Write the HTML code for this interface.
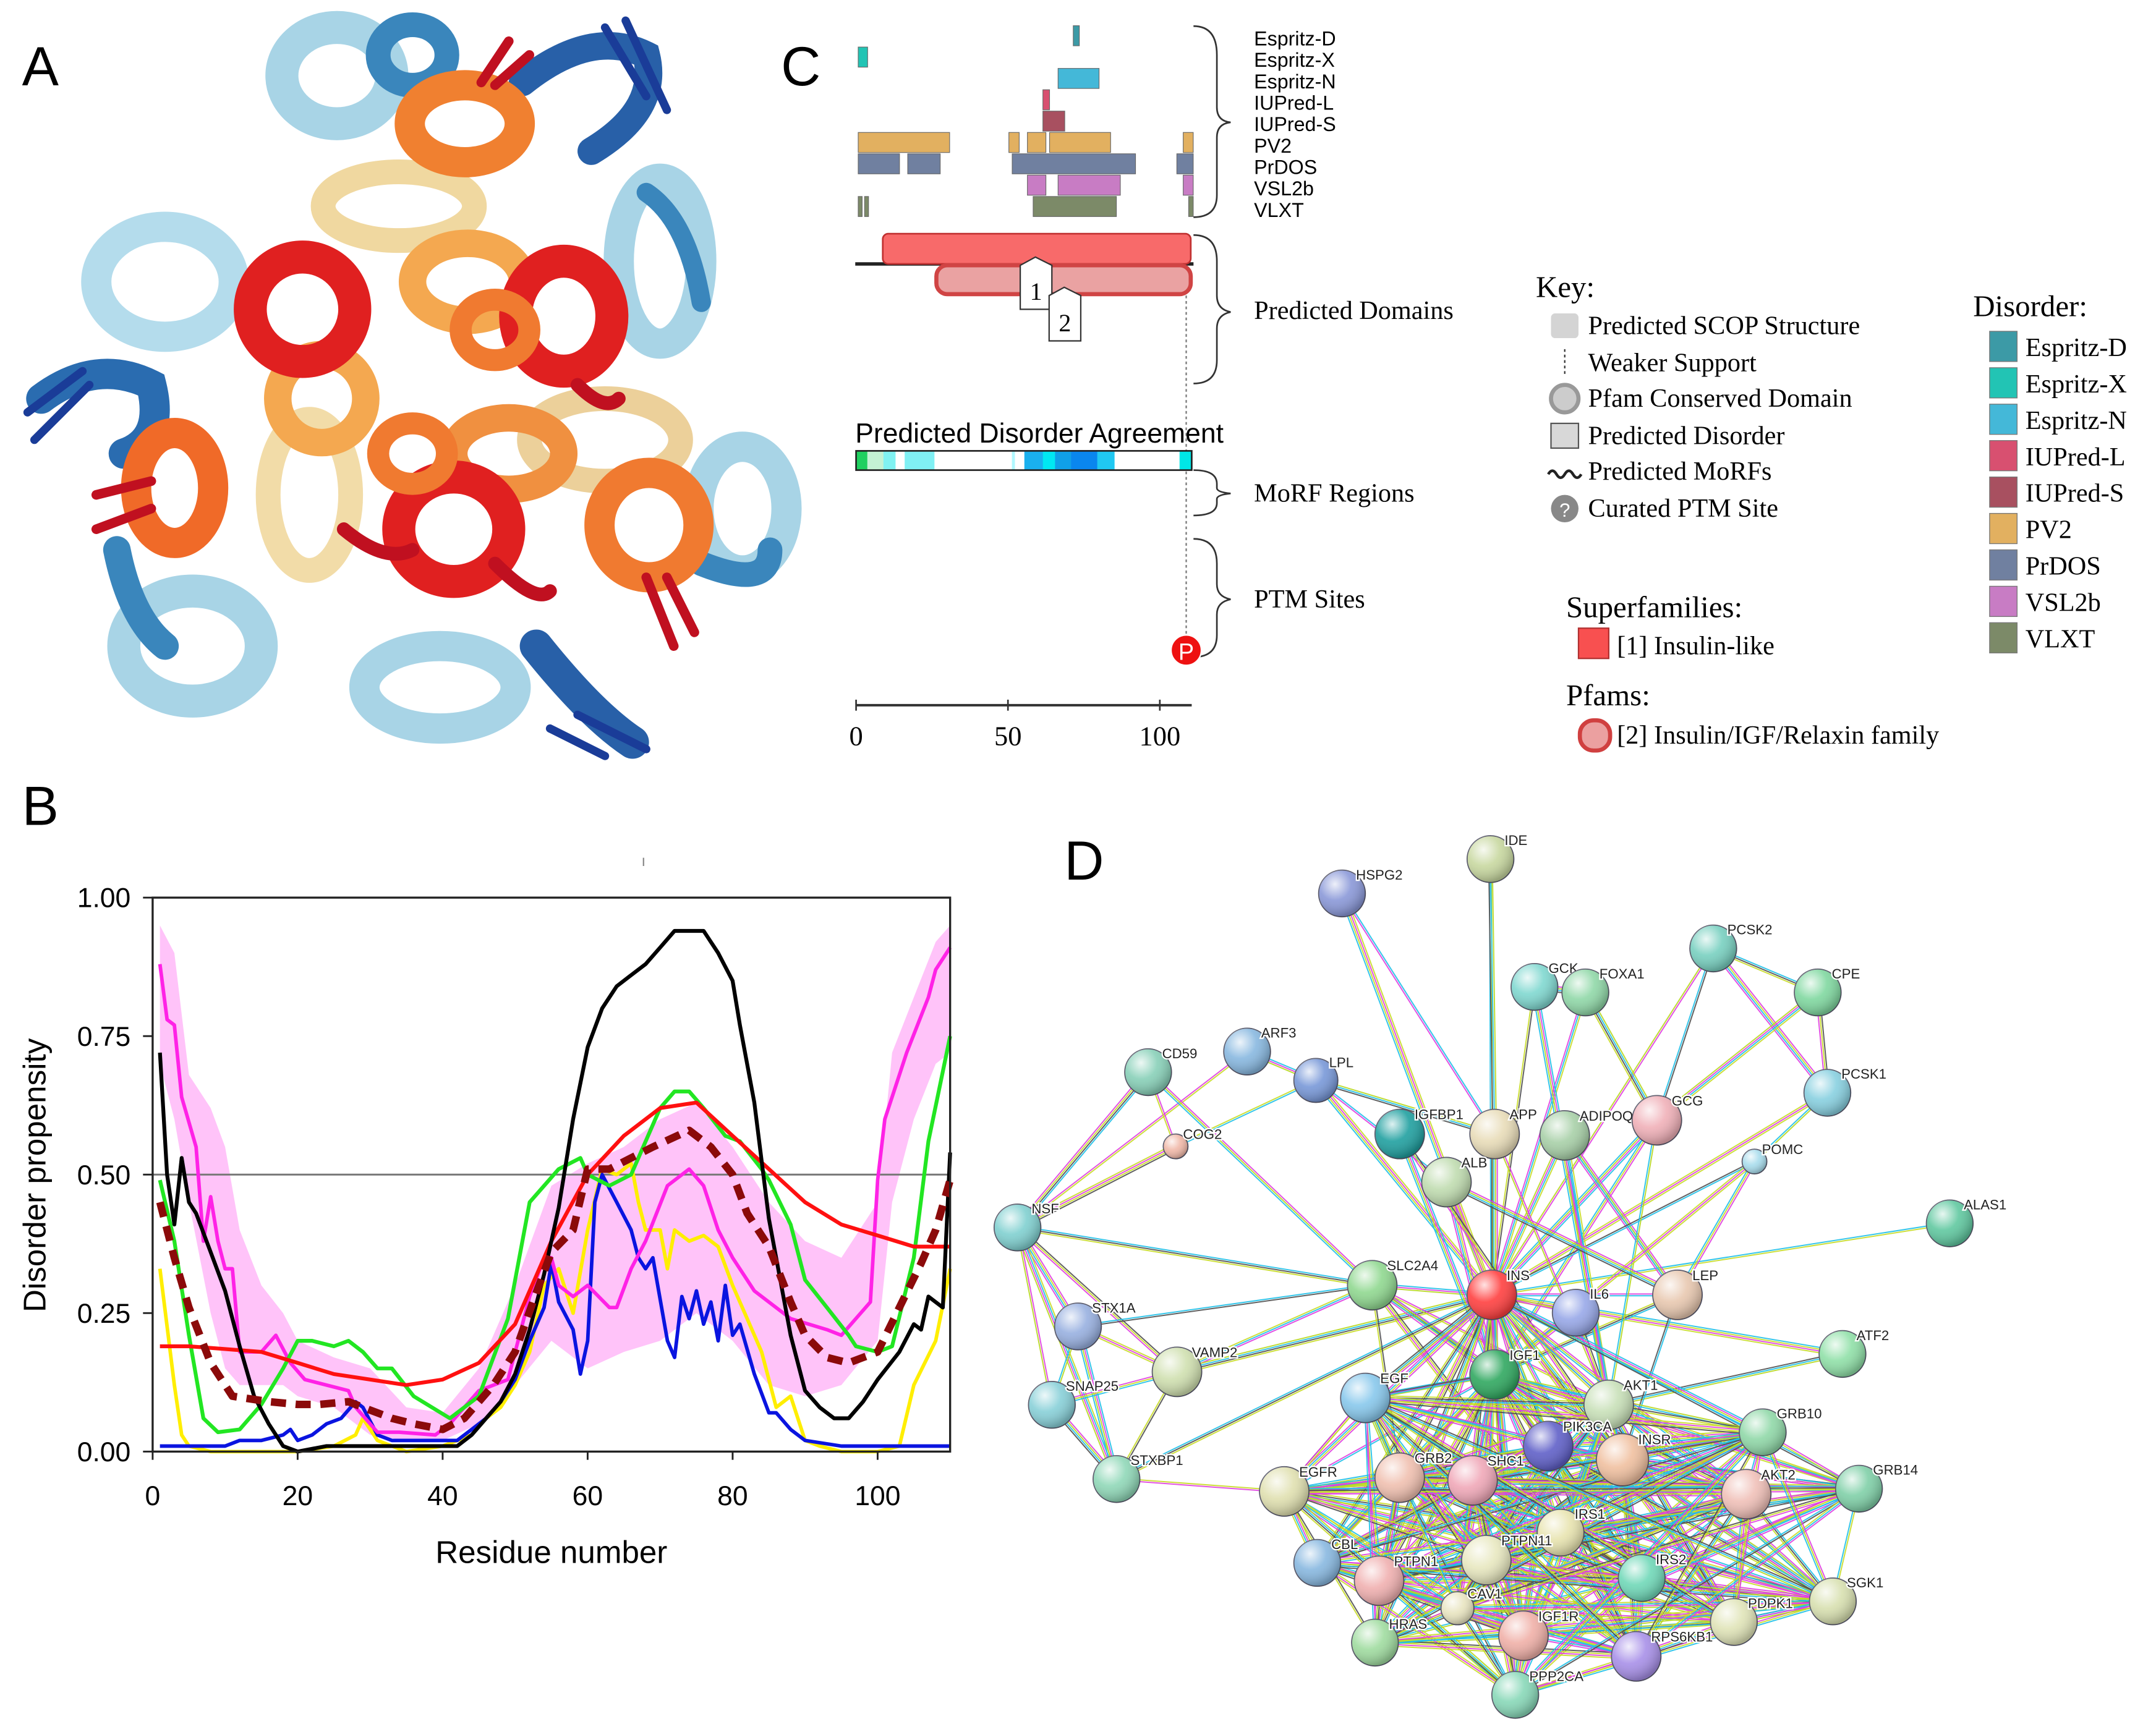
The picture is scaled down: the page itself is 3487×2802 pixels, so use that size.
<!DOCTYPE html>
<html><head><meta charset="utf-8"><style>
html,body{margin:0;padding:0;background:#fff;}
svg{display:block;}
.sans{font-family:"Liberation Sans",sans-serif;}
.serif{font-family:"Liberation Serif",serif;}
</style></head><body>
<svg id="fig" width="3487" height="2802" viewBox="0 0 1568 1260" xmlns="http://www.w3.org/2000/svg">
<defs>
<radialGradient id="shine" cx="35%" cy="30%" r="70%"><stop offset="0" stop-color="#fff" stop-opacity="0.85"/><stop offset="0.5" stop-color="#fff" stop-opacity="0.1"/><stop offset="1" stop-color="#000" stop-opacity="0.25"/></radialGradient>
</defs>
<rect width="1568" height="1260" fill="#fff"/>

<text x="16" y="62" font-size="40" class="sans">A</text>
<text x="16" y="600" font-size="40" class="sans">B</text>
<text x="568" y="62" font-size="40" class="sans">C</text>
<text x="774" y="640" font-size="40" class="sans">D</text>

<g id="panelA" fill="none" stroke-linecap="round">
  <ellipse cx="245" cy="55" rx="40" ry="35" stroke="#a8d4e6" stroke-width="24"/>
  <ellipse cx="300" cy="40" rx="25" ry="22" stroke="#3a86bc" stroke-width="18"/>
  <path d="M380 60 Q430 20 470 40 Q480 80 430 110" stroke="#2860a8" stroke-width="20"/>
  <path d="M440 20 L470 70 M455 15 L485 80" stroke="#1a3c98" stroke-width="6"/>
  <ellipse cx="480" cy="190" rx="30" ry="60" stroke="#a8d4e6" stroke-width="22"/>
  <path d="M470 140 Q500 160 510 220" stroke="#3a86bc" stroke-width="14"/>
  <ellipse cx="120" cy="205" rx="50" ry="40" stroke="#b4dcec" stroke-width="22"/>
  <path d="M30 290 Q70 260 110 280 Q120 320 90 330" stroke="#2a6cb0" stroke-width="22"/>
  <path d="M20 300 L60 270 M25 320 L65 280" stroke="#1a3c98" stroke-width="6"/>
  <ellipse cx="140" cy="470" rx="50" ry="40" stroke="#a8d4e6" stroke-width="24"/>
  <path d="M85 400 Q95 450 120 470" stroke="#3a86bc" stroke-width="20"/>
  <ellipse cx="320" cy="500" rx="55" ry="30" stroke="#a8d4e6" stroke-width="22"/>
  <path d="M390 470 Q430 520 460 540" stroke="#2860a8" stroke-width="24"/>
  <path d="M420 520 L470 545 M400 530 L440 550" stroke="#1a3c98" stroke-width="6"/>
  <ellipse cx="540" cy="370" rx="32" ry="45" stroke="#a8d4e6" stroke-width="22"/>
  <path d="M510 410 Q560 430 560 400" stroke="#3a86bc" stroke-width="18"/>
  <ellipse cx="290" cy="150" rx="55" ry="25" stroke="#f0d8a0" stroke-width="18"/>
  <ellipse cx="225" cy="360" rx="30" ry="55" stroke="#f2dca8" stroke-width="18"/>
  <ellipse cx="440" cy="320" rx="55" ry="30" stroke="#ecd09a" stroke-width="18"/>
  <ellipse cx="340" cy="205" rx="40" ry="28" stroke="#f4a850" stroke-width="20"/>
  <ellipse cx="234" cy="290" rx="32" ry="32" stroke="#f4a850" stroke-width="20"/>
  <ellipse cx="370" cy="330" rx="40" ry="26" stroke="#f09040" stroke-width="20"/>
  <ellipse cx="338" cy="90" rx="40" ry="28" stroke="#f08030" stroke-width="22"/>
  <ellipse cx="127" cy="355" rx="28" ry="40" stroke="#f06a28" stroke-width="22"/>
  <ellipse cx="472" cy="382" rx="36" ry="38" stroke="#f07a30" stroke-width="22"/>
  <ellipse cx="220" cy="225" rx="38" ry="38" stroke="#e02020" stroke-width="24"/>
  <ellipse cx="410" cy="230" rx="35" ry="40" stroke="#e02020" stroke-width="24"/>
  <ellipse cx="330" cy="385" rx="40" ry="38" stroke="#e02020" stroke-width="24"/>
  <ellipse cx="360" cy="240" rx="25" ry="22" stroke="#f07a30" stroke-width="16"/>
  <ellipse cx="300" cy="330" rx="25" ry="22" stroke="#f07a30" stroke-width="16"/>
  <path d="M350 60 L370 30 M360 62 L385 40" stroke="#c01020" stroke-width="7"/>
  <path d="M70 360 L110 350 M70 385 L110 370" stroke="#c01020" stroke-width="7"/>
  <path d="M470 420 L490 470 M485 420 L505 460" stroke="#c01020" stroke-width="7"/>
  <path d="M250 385 Q280 410 300 400" stroke="#c01020" stroke-width="10"/>
  <path d="M360 410 Q390 440 400 430" stroke="#c01020" stroke-width="10"/>
  <path d="M420 280 Q440 300 450 290" stroke="#c01020" stroke-width="10"/>
</g>

<g id="panelB">
  <g id="bBand"></g>
  <g id="bLines"></g>
  <rect x="111" y="653" width="580" height="403" fill="none" stroke="#222" stroke-width="1.5"/>
  <g id="bAxes"></g>
  <line x1="468" y1="624" x2="468" y2="630" stroke="#888" stroke-width="1"/>
  <text x="401" y="1137" font-size="23" text-anchor="middle" class="sans">Residue number</text>
  <text x="33" y="855" font-size="23" text-anchor="middle" class="sans" transform="rotate(-90 33 855)">Disorder propensity</text>
</g>

<g id="panelC">
  <g id="cBars"></g>
  <g id="cLabels" class="sans" font-size="14.5"></g>
  <path d="M868 19 Q885 19 885 40 L885 78 Q885 88 895 89 Q885 90 885 100 L885 142 Q885 158 868 158" fill="none" stroke="#333" stroke-width="1.2"/>
  <line x1="622" y1="192" x2="868" y2="192" stroke="#222" stroke-width="2.5"/>
  <rect x="642" y="170" width="224" height="22" rx="4" fill="#f86a6a" stroke="#c03030" stroke-width="1.2"/>
  <rect x="681" y="193" width="185" height="21" rx="8" fill="#eaa2a2" stroke="#d04444" stroke-width="3"/>
  <path d="M742 193 L753 187 L765 193 L765 225 L742 225 Z" fill="#fff" stroke="#333" stroke-width="1"/>
  <text x="753.5" y="218" font-size="18" text-anchor="middle" class="serif">1</text>
  <path d="M763 215 L774 209 L786 215 L786 248 L763 248 Z" fill="#fff" stroke="#333" stroke-width="1"/>
  <text x="774.5" y="241" font-size="18" text-anchor="middle" class="serif">2</text>
  <line x1="862.7" y1="215" x2="862.7" y2="462" stroke="#777" stroke-width="1" stroke-dasharray="2,2"/>
  <path d="M868 171 Q885 171 885 190 L885 215 Q885 225 895 227 Q885 229 885 239 L885 262 Q885 279 868 279" fill="none" stroke="#333" stroke-width="1.2"/>
  <text x="912" y="232" font-size="19" class="serif">Predicted Domains</text>
  <text x="622" y="322" font-size="20" class="sans">Predicted Disorder Agreement</text>
  <g id="cAgree"></g>
  <path d="M868 342 Q885 342 885 352 L885 355 Q885 358 895 359 Q885 360 885 363 L885 366 Q885 375 868 375" fill="none" stroke="#333" stroke-width="1.2"/>
  <text x="912" y="365" font-size="19" class="serif">MoRF Regions</text>
  <path d="M868 392 Q885 392 885 410 L885 425 Q885 434 895 436 Q885 438 885 447 L885 462 Q885 478 868 478" fill="none" stroke="#333" stroke-width="1.2"/>
  <text x="912" y="442" font-size="19" class="serif">PTM Sites</text>
  <circle cx="862.7" cy="473" r="11" fill="#ee1111" stroke="#fff" stroke-width="1"/>
  <text x="862.7" y="480" font-size="17" fill="#fff" text-anchor="middle" class="sans">P</text>
  <g id="cAxis"></g>
</g>

<g id="key" class="serif" font-size="19">
  <text x="1117" y="216" font-size="22">Key:</text>
  <rect x="1128" y="228" width="20" height="18" rx="3" fill="#d4d4d4"/>
  <text x="1155" y="243">Predicted SCOP Structure</text>
  <line x1="1138" y1="254" x2="1138" y2="272" stroke="#333" stroke-dasharray="2,2"/>
  <text x="1155" y="270">Weaker Support</text>
  <circle cx="1138" cy="290" r="10" fill="#ccc" stroke="#999" stroke-width="3"/>
  <text x="1155" y="296">Pfam Conserved Domain</text>
  <rect x="1128" y="308" width="20" height="18" fill="#d8d8d8" stroke="#555"/>
  <text x="1155" y="323">Predicted Disorder</text>
  <path d="M1126 345 q3 -5 6 0 t6 0 t6 0 t6 0" fill="none" stroke="#222" stroke-width="2"/>
  <text x="1155" y="349">Predicted MoRFs</text>
  <circle cx="1138" cy="370" r="10" fill="#888"/>
  <text x="1138" y="376" font-size="14" fill="#fff" text-anchor="middle" class="sans">?</text>
  <text x="1155" y="376">Curated PTM Site</text>
  <text x="1139" y="449" font-size="22">Superfamilies:</text>
  <rect x="1148" y="457" width="22" height="22" fill="#f85050" stroke="#b03030"/>
  <text x="1176" y="476">[1] Insulin-like</text>
  <text x="1139" y="513" font-size="22">Pfams:</text>
  <rect x="1149" y="524" width="22" height="22" rx="10" fill="#eba0a0" stroke="#d04040" stroke-width="3"/>
  <text x="1176" y="541">[2] Insulin/IGF/Relaxin family</text>
  <text x="1435" y="230" font-size="22">Disorder:</text>
  <g id="dLegend"></g>
</g>

<g id="panelD">
  <g id="dEdges"></g>
  <g id="dNodes"></g>
</g>
</svg>

<script>
// ===== Panel B data =====
const blackRes=[1,2,3,4,5,6,8,10,12,14,16,18,20,24,30,36,40,42,44,46,48,50,52,54,56,58,60,62,64,66,68,70,72,74,76,78,80,81,83,85,88,90,92,94,96,98,100,103,105,106,107,109,110];
const blackVal=[.72,.50,.41,.53,.45,.43,.36,.29,.19,.10,.05,.01,0,.01,.01,.01,.01,.01,.03,.06,.09,.14,.22,.32,.44,.6,.73,.8,.84,.86,.88,.91,.94,.94,.94,.9,.85,.77,.63,.42,.21,.11,.08,.06,.06,.09,.13,.18,.23,.22,.28,.26,.54];
const redRes=[1,5,10,15,20,25,30,35,40,45,50,55,60,65,70,75,80,85,90,95,100,105,110];
const redVal=[.19,.19,.185,.18,.16,.14,.13,.12,.13,.16,.23,.38,.5,.57,.62,.63,.57,.51,.45,.41,.39,.37,.37];
const greenRes=[1,3,5,7,9,12,15,18,20,22,25,27,29,31,33,36,41,45,49,52,56,59,60,63,66,70,72,74,76,79,81,84,85,88,90,93,96,97,100,102,105,107,110];
const greenVal=[.49,.38,.21,.06,.035,.04,.085,.15,.2,.2,.19,.2,.18,.15,.15,.1,.06,.1,.24,.45,.51,.53,.5,.48,.5,.62,.65,.65,.62,.57,.56,.51,.49,.41,.31,.26,.21,.19,.18,.19,.35,.56,.75];
const blueRes=[1,10,12,15,18,19,20,22,24,26,28,29,31,33,37,42,44,46,48,50,52,54,55,56,58,59,60,61,62,64,66,67,68,69,71,72,73,74,75,76,77,78,79,80,81,83,85,86,88,90,95,110];
const blueVal=[.01,.01,.02,.02,.03,.04,.02,.03,.05,.06,.09,.08,.03,.02,.02,.02,.04,.06,.09,.13,.2,.26,.34,.27,.22,.14,.2,.45,.5,.45,.4,.35,.33,.35,.2,.17,.28,.24,.29,.23,.27,.2,.3,.21,.23,.14,.07,.07,.04,.02,.01,.01];
const yellowRes=[1,3,4,5,8,20,25,28,29,31,35,40,44,46,48,50,52,54,56,58,60,62,64,66,67,68,70,71,72,74,76,78,80,82,84,86,88,90,92,95,100,103,105,108,110];
const yellowVal=[.33,.12,.03,.01,0,0,.01,.03,.06,.02,0,.01,.03,.06,.08,.12,.18,.3,.33,.25,.4,.51,.5,.52,.45,.4,.4,.33,.4,.38,.39,.37,.3,.24,.18,.08,.1,.02,.01,0,0,.01,.12,.2,.33];
const magentaRes=[1,2,3,4,6,7,8,9,10,11,12,15,17,19,21,27,28,31,34,39,41,45,49,52,54,55,56,58,60,63,64,66,68,71,74,76,78,80,83,85,88,93,95,99,100,101,104,107,108,110];
const magentaVal=[.88,.78,.77,.64,.55,.38,.46,.38,.33,.33,.18,.18,.21,.16,.13,.11,.08,.035,.035,.03,.05,.11,.13,.28,.35,.35,.3,.28,.3,.26,.26,.33,.38,.48,.51,.48,.4,.35,.29,.27,.24,.22,.21,.27,.49,.6,.72,.82,.87,.91];
const meanRes=[1,3,5,8,11,16,20,23,27,29,33,36,40,43,47,50,53,55,58,60,63,66,69,74,77,80,82,85,88,90,93,96,100,103,106,108,110];
const meanVal=[.45,.35,.26,.16,.1,.09,.085,.085,.09,.08,.06,.05,.04,.06,.12,.18,.29,.36,.4,.51,.51,.53,.55,.58,.55,.5,.43,.37,.27,.21,.17,.16,.18,.26,.34,.4,.49];
const bandRes=[1,3,5,8,10,12,15,18,20,25,30,35,40,45,50,55,60,65,70,75,80,85,90,95,100,102,105,108,110];
const bandUpper=[.95,.9,.68,.62,.55,.4,.3,.25,.2,.17,.15,.08,.07,.15,.3,.48,.52,.55,.6,.63,.55,.45,.38,.35,.45,.72,.82,.92,.95];
const bandLower=[.7,.6,.45,.25,.15,.12,.12,.12,.1,.08,.03,.02,.02,.05,.12,.2,.15,.18,.2,.25,.2,.12,.1,.12,.2,.45,.6,.7,.72];
const yTicks=[0,0.25,0.5,0.75,1.0];
const yTickLabels=["0.00","0.25","0.50","0.75","1.00"];
const xTicks=[0,20,40,60,80,100];

// ===== Panel C data =====
const predictors=["Espritz-D","Espritz-X","Espritz-N","IUPred-L","IUPred-S","PV2","PrDOS","VSL2b","VLXT"];
const predColors=["#3c9aa6","#22c4b4","#44b8d8","#d85070","#a85060","#e2b060","#7080a0","#c87cc4","#7c8a68"];
const predSegments=[
 [[71.5,73.5]],
 [[0.7,3.8]],
 [[66.5,80]],
 [[61.5,63.7]],
 [[61.5,68.7]],
 [[0.7,30.8],[50.3,53.7],[56.4,62.5],[63.7,83.8],[107.7,111]],
 [[0.7,14.3],[17,27.7],[51.4,92],[105.6,111]],
 [[56.4,62.5],[66.5,87],[107.7,111]],
 [[0.7,2],[2.8,4.1],[58.3,85.7],[109.5,111]]
];
const agreeStops=[[0,3.7,"#20d060"],[3.7,9,"#c4f2d4"],[9,13,"#80f2f2"],[13,16,"#ffffff"],[16,25.8,"#80f0f4"],[25.8,51.3,"#ffffff"],[51.3,52.3,"#b0f8ff"],[52.3,55.4,"#ffffff"],[55.4,61.5,"#1ab0ee"],[61.5,65.5,"#00e8f2"],[65.5,70.8,"#10a0e8"],[70.8,79.4,"#0a86ee"],[79.4,85.1,"#20c8f2"],[85.1,106.5,"#ffffff"],[106.5,110.5,"#00e6e6"]];
const cTicks=[0,50,100];

// ===== Panel D data =====
const nodeNames=["IDE","HSPG2","PCSK2","GCK","FOXA1","CPE","ARF3","CD59","LPL","PCSK1","IGFBP1","APP","ADIPOQ","GCG","COG2","POMC","ALB","NSF","ALAS1","SLC2A4","INS","IL6","LEP","STX1A","VAMP2","IGF1","ATF2","EGF","AKT1","SNAP25","PIK3CA","GRB10","INSR","SHC1","GRB2","STXBP1","EGFR","AKT2","GRB14","IRS1","PTPN11","CBL","PTPN1","IRS2","SGK1","PDPK1","CAV1","HRAS","IGF1R","RPS6KB1","PPP2CA"];
const nodeX=[1084,976,1246,1116,1153,1322,907,835,957,1329,1018,1087,1138,1205,855,1276,1052,740,1418,998,1085,1146,1220,784,856,1087,1340,993,1170,765,1126,1282,1180,1071,1018,812,934,1270,1352,1135,1081,958,1003,1194,1333,1261,1060,1000,1108,1190,1102];
const nodeY=[625,650,690,718,722,722,765,780,786,795,825,825,826,815,834,845,860,893,890,935,942,955,942,965,998,1000,985,1017,1022,1022,1052,1042,1062,1077,1075,1076,1085,1087,1083,1115,1135,1137,1150,1148,1165,1180,1170,1195,1190,1205,1233];
const nodeColors=["#c8d8a0","#8a98d8","#78d0c0","#80d8d0","#90d8a8","#80d8a0","#88b8e0","#88d0b8","#7898d8","#88d0e0","#20a0a0","#e8dcb8","#a8d0a8","#f0b0b8","#f0b8a8","#a8dcec","#c0dcb0","#80d0d0","#60c8a0","#90d890","#ff4040","#98a8e8","#e8c8b0","#98b0e0","#d0e0b0","#30a860","#90e0a8","#88c8ec","#c8e0b8","#88d0d8","#6060c8","#90d8a8","#f0c0a0","#f0a8b8","#f0c0b0","#90d8b8","#e0e0b0","#f0c0b8","#80d0a8","#e8e4b0","#e8e8c0","#88b8e0","#f0b0b0","#70d8b8","#d8e0b0","#e0e4b8","#e8e4c0","#a0dca0","#f0b0a8","#a890e8","#88d8b8"];
const nodeR=[17,17,17,17,17,17,17,17,16,17,18,18,18,18,9,9,18,17,17,18,18,17,18,17,18,18,17,18,18,17,18,17,19,18,18,17,18,18,17,17,18,17,18,17,17,17,12,17,18,18,17];
const edgeFrom=["IDE","IDE","HSPG2","HSPG2","PCSK2","PCSK2","PCSK2","CPE","CPE","PCSK1","PCSK1","GCG","GCG","GCG","GCK","GCK","FOXA1","FOXA1","ARF3","ARF3","CD59","CD59","CD59","COG2","COG2","LPL","LPL","LPL","NSF","NSF","NSF","NSF","NSF","STX1A","STX1A","STX1A","STX1A","SNAP25","SNAP25","VAMP2","VAMP2","VAMP2","STXBP1","SLC2A4","SLC2A4","SLC2A4","SLC2A4","SLC2A4","ALAS1","ATF2","ATF2","LEP","LEP","LEP","IL6","IL6","ADIPOQ","ADIPOQ","ALB","IGFBP1","POMC","POMC","APP","EGFR","EGFR","EGFR","EGF","EGF","GRB10","GRB10","GRB14","GRB14","SGK1","SGK1","PDPK1","CBL","STXBP1","ALB","APP","IGFBP1","ADIPOQ","GCG","POMC","GCK","LEP","IL6","ALB","SLC2A4"];
const edgeTo=["INS","APP","INS","APP","CPE","PCSK1","INS","PCSK1","GCG","POMC","INS","INS","PCSK2","IGF1","FOXA1","INS","INS","GCG","NSF","LPL","NSF","COG2","SLC2A4","NSF","LPL","APP","INS","ALB","SLC2A4","STX1A","SNAP25","VAMP2","STXBP1","SNAP25","VAMP2","STXBP1","SLC2A4","VAMP2","STXBP1","STXBP1","SLC2A4","INS","EGFR","INS","IGF1","AKT1","INSR","IRS1","INS","AKT1","INS","INS","IGF1","ADIPOQ","INS","AKT1","INS","LEP","INS","IGF1","INS","LEP","IGF1","EGF","GRB2","SHC1","INS","IGF1","INSR","IGF1R","INSR","IRS1","AKT1","PDPK1","AKT1","GRB2","INS","IGF1","AKT1","INSR","AKT1","AKT1","IGF1","AKT1","INSR","IGF1","LEP","GRB2"];
const hubList=["INS","IGF1","INSR","IRS1","IRS2","PIK3CA","AKT1","AKT2","GRB2","SHC1","PTPN1","PTPN11","IGF1R","CBL","EGFR","HRAS","CAV1","PPP2CA","RPS6KB1","PDPK1","GRB10","GRB14","SGK1","EGF"];
const edgeColors=["#c8dc28","#20c0e8","#e040e0","#b8d820","#20c0e8","#505050","#c8dc28","#e040e0"];

const NS="http://www.w3.org/2000/svg";
function mk(tag,attrs,parent){const e=document.createElementNS(NS,tag);for(const k in attrs)e.setAttribute(k,attrs[k]);if(parent)parent.appendChild(e);return e;}
const bx=r=>111+r*(580/110);
const by=v=>1056-v*403;

(function(){
  const g=document.getElementById('bBand');
  let d='';
  bandRes.forEach((r,i)=>{d+=(i?'L':'M')+bx(r).toFixed(1)+' '+by(bandUpper[i]).toFixed(1);});
  for(let i=bandRes.length-1;i>=0;i--)d+='L'+bx(bandRes[i]).toFixed(1)+' '+by(bandLower[i]).toFixed(1);
  const p=mk('path',{d:d+'Z',fill:'#ffb8f8',opacity:'0.85'},g);
  
  
  const gl=document.getElementById('bLines');
  const l=mk('line',{x1:111,x2:691,y1:by(0.5),y2:by(0.5),stroke:'#777','stroke-width':1.3},gl);
  
  
})();
function line(res,val,color,w,dash,name){
  const g=document.getElementById('bLines');
  let d='';res.forEach((r,i)=>{d+=(i?'L':'M')+bx(r).toFixed(1)+' '+by(val[i]).toFixed(1);});
  const p=mk('path',{d:d,fill:'none',stroke:color,'stroke-width':w,'stroke-linejoin':'round'},g);
  if(dash)p.setAttribute('stroke-dasharray',dash);
  
  
}
line(yellowRes,yellowVal,'#ffee00',2.6,null,'series-yellow');
line(blueRes,blueVal,'#0a14e0',2.6,null,'series-blue');
line(magentaRes,magentaVal,'#ff22e6',2.6,null,'series-magenta');
line(greenRes,greenVal,'#22e622',2.8,null,'series-green');
line(redRes,redVal,'#ff1010',2.8,null,'series-red');
line(blackRes,blackVal,'#000',2.8,null,'series-black');
line(meanRes,meanVal,'#8b0a0a',5.5,'11,7','series-mean-dashed');
(function(){
  const g=document.getElementById('bAxes');
  yTicks.forEach((v,i)=>{
    mk('line',{x1:104,x2:111,y1:by(v),y2:by(v),stroke:'#222','stroke-width':1.3},g);
    const t=mk('text',{x:95,y:by(v)+7,'font-size':20,'text-anchor':'end',class:'sans'},g);
    t.textContent=yTickLabels[i];
    
    
  });
  xTicks.forEach(r=>{
    mk('line',{x1:bx(r),x2:bx(r),y1:1056,y2:1062,stroke:'#222','stroke-width':1.3},g);
    const t=mk('text',{x:bx(r),y:1095,'font-size':20,'text-anchor':'middle',class:'sans'},g);
    t.textContent=String(r);
    
    
  });
})();

const cx=r=>622.6+r*(243/110);
(function(){
  const g=document.getElementById('cBars');
  predSegments.forEach((segs,i)=>{
    const y0=18.7+i*15.53;
    segs.forEach(s=>{
      const r=mk('rect',{x:cx(s[0]),y:y0,width:cx(s[1])-cx(s[0]),height:14.6,fill:predColors[i],stroke:'#666','stroke-width':0.5},g);
      
      
    });
  });
  const lg=document.getElementById('cLabels');
  predictors.forEach((p,i)=>{
    const t=mk('text',{x:912,y:33+i*15.6},lg);
    t.textContent=p;
    
    
  });
  const ag=document.getElementById('cAgree');
  agreeStops.forEach(s=>{
    const r=mk('rect',{x:cx(s[0]),y:328,width:cx(s[1])-cx(s[0])+0.3,height:14,fill:s[2]},ag);
    
    
  });
  const fr=mk('rect',{x:622.6,y:328,width:cx(110.5)-622.6,height:14,fill:'none',stroke:'#222','stroke-width':1.2},ag);
  
  
  const ax=document.getElementById('cAxis');
  mk('line',{x1:622.6,x2:cx(110.5),y1:513,y2:513,stroke:'#333','stroke-width':1.8},ax);
  cTicks.forEach(t=>{
    mk('line',{x1:cx(t),x2:cx(t),y1:509,y2:517,stroke:'#333','stroke-width':1.2},ax);
    const tx=mk('text',{x:cx(t),y:542,'font-size':20,'text-anchor':'middle',class:'serif'},ax);
    tx.textContent=String(t);
    
    
  });
  const dl=document.getElementById('dLegend');
  predictors.forEach((p,i)=>{
    const y=241+i*26.5;
    const r=mk('rect',{x:1447,y:y,width:20,height:22,fill:predColors[i],stroke:'#777','stroke-width':0.6},dl);
    
    
    const t=mk('text',{x:1473,y:y+18,'font-size':19},dl);
    t.textContent=p;
    
    
  });
})();

(function(){
  const eg=document.getElementById('dEdges');
  const idx=n=>nodeNames.indexOf(n);
  const pairs=[];
  edgeFrom.forEach((f,i)=>pairs.push([idx(f),idx(edgeTo[i])]));
  for(let i=0;i<hubList.length;i++)for(let j=i+1;j<hubList.length;j++){
    if((i*7+j*3)%4!==0 || i<3) pairs.push([idx(hubList[i]),idx(hubList[j])]);
  }
  pairs.forEach((p,k)=>{
    const x1=nodeX[p[0]],y1=nodeY[p[0]],x2=nodeX[p[1]],y2=nodeY[p[1]];
    const dx=x2-x1,dy=y2-y1,L=Math.hypot(dx,dy)||1,nx=-dy/L,ny=dx/L;
    const nc=2+(k%3);
    for(let c=0;c<nc;c++){
      const off=(c-(nc-1)/2)*1.3;
      const col=edgeColors[(k*3+c)%edgeColors.length];
      const l=mk('line',{x1:x1+nx*off,y1:y1+ny*off,x2:x2+nx*off,y2:y2+ny*off,stroke:col,'stroke-width':0.9,opacity:0.9},eg);
      
      
    }
  });
  const ng=document.getElementById('dNodes');
  nodeNames.forEach((n,i)=>{
    const g=mk('g',{},ng);
    
    
    mk('circle',{cx:nodeX[i],cy:nodeY[i],r:nodeR[i],fill:nodeColors[i],stroke:'#556','stroke-width':0.8},g);
    mk('circle',{cx:nodeX[i],cy:nodeY[i],r:nodeR[i],fill:'url(#shine)'},g);
    const t=mk('text',{x:nodeX[i]+nodeR[i]*0.6,y:nodeY[i]-nodeR[i]*0.6,'font-size':10,class:'sans',fill:'#222',stroke:'#fff','stroke-width':2,'paint-order':'stroke'},g);
    t.textContent=n;
  });
})();
</script>
</body></html>
